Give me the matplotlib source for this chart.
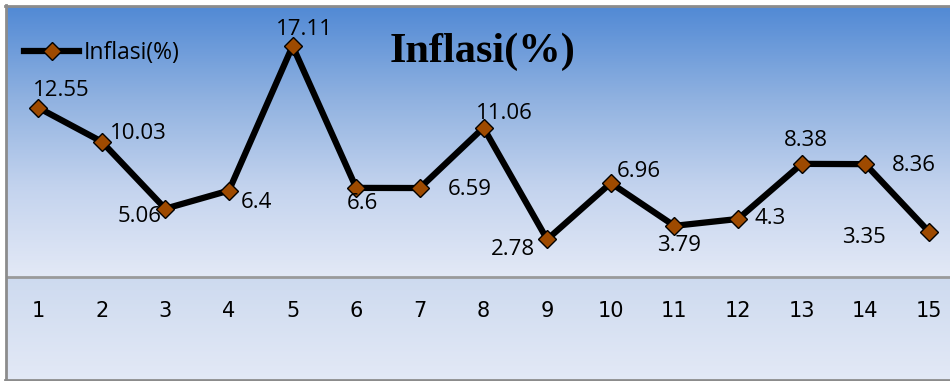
import numpy as np
import matplotlib
matplotlib.use("Agg")
import matplotlib.pyplot as plt
from matplotlib.lines import Line2D
from matplotlib.colors import LinearSegmentedColormap

# ---- data ----
periods = list(range(1, 16))
tick_labels = [str(p) for p in periods]
inflasi = [12.55, 10.03, 5.06, 6.4, 17.11, 6.6, 6.59, 11.06, 2.78, 6.96, 3.79, 4.3, 8.38, 8.36, 3.35]
label_offsets = [(23, 17), (37, 8), (-26, -8), (28, -12), (12, 17), (6, -16), (50, -1),
                 (21, 14), (-34, -10), (28, 12), (5, -20), (32, 0), (4, 23), (49, -1), (-65, -6)]
series_name = "Inflasi(%)"
title = "Inflasi(%)"

W, H = 950, 381
fig = plt.figure(figsize=(W / 100, H / 100), dpi=100)
fig.patch.set_facecolor("white")

def fx(px):
    return px / W

def fy(py):
    return 1 - py / H

# plot-area geometry (pixels)
left_px, top_px, axis_px, bottom_px = 7, 7, 277, 380

# background for the lower band
bg = fig.add_axes([fx(left_px), fy(bottom_px), 1 - fx(left_px), fy(axis_px) - fy(bottom_px)])
cm_low = LinearSegmentedColormap.from_list("low", ["#cddaef", "#e3e9f6"])
bg.imshow(np.linspace(0, 1, 200).reshape(-1, 1), aspect="auto", cmap=cm_low,
          extent=[0, 1, 0, 1], origin="upper", transform=bg.transAxes)
bg.set_xlim(0, 1); bg.set_ylim(0, 1)
bg.axis("off")

ax = fig.add_axes([fx(left_px), fy(axis_px), 1 - fx(left_px), fy(top_px) - fy(axis_px)])
cm_top = LinearSegmentedColormap.from_list("top", ["#528ad5", "#8fb1e0", "#c3d3ee", "#e3e9f6"])
ax.imshow(np.linspace(0, 1, 300).reshape(-1, 1), aspect="auto", cmap=cm_top,
          extent=[0, 1, 0, 1], origin="upper", transform=ax.transAxes, zorder=0)

x0 = 1 - (38 - left_px) / 63.64
x1 = 15 + (W - 929) / 63.64
ax.set_xlim(x0, x1)
ax.set_ylim(0, 20)

ax.plot(periods, inflasi, color="black", lw=4.5, marker="D", markersize=9.5,
        markerfacecolor="#9e4a00", markeredgecolor="black", markeredgewidth=1.0,
        zorder=3, clip_on=False)

for xv, yv, (dx, dy) in zip(periods, inflasi, label_offsets):
    ax.annotate(f"{yv:g}", (xv, yv), xytext=(dx, dy), textcoords="offset pixels",
                ha="center", va="center", fontsize=16, family="Open Sans", color="black",
                zorder=4)

ax.set_yticks([])
ax.set_xticks(periods)
ax.set_xticklabels(tick_labels, family=["Liberation Sans Narrow", "DejaVu Sans"],
                   fontsize=15, color="black")
ax.tick_params(axis="x", length=0, pad=17)
for s in ["top", "right", "left"]:
    ax.spines[s].set_visible(False)
ax.spines["bottom"].set_color("#9a9a9a")
ax.spines["bottom"].set_linewidth(2)

# title
fig.text(fx(483), fy(52), title, ha="center", va="center", fontsize=30.5,
         fontweight="bold", family="Liberation Serif", color="black")

# legend
handle = Line2D([], [], color="black", lw=4.5, marker="D", markersize=9.5,
                markerfacecolor="#9e4a00", markeredgecolor="black", markeredgewidth=1.0)
ax.legend([handle], [series_name], loc="center left",
          bbox_to_anchor=(fx(24), fy(53)), bbox_transform=fig.transFigure,
          frameon=False, handlelength=2.4, handletextpad=0.2,
          borderpad=0, borderaxespad=0,
          prop={"family": "Open Sans", "size": 16.5})

# border lines
fig.add_artist(Line2D([fx(6), fx(6)], [fy(5), fy(380)], color="#8c8c8c", lw=2, transform=fig.transFigure))
fig.add_artist(Line2D([fx(5), 1], [fy(6), fy(6)], color="#8c8c8c", lw=2, transform=fig.transFigure))
fig.add_artist(Line2D([fx(5), 1], [fy(380), fy(380)], color="#8c8c8c", lw=2, transform=fig.transFigure))

fig.savefig("out.png", dpi=100)
